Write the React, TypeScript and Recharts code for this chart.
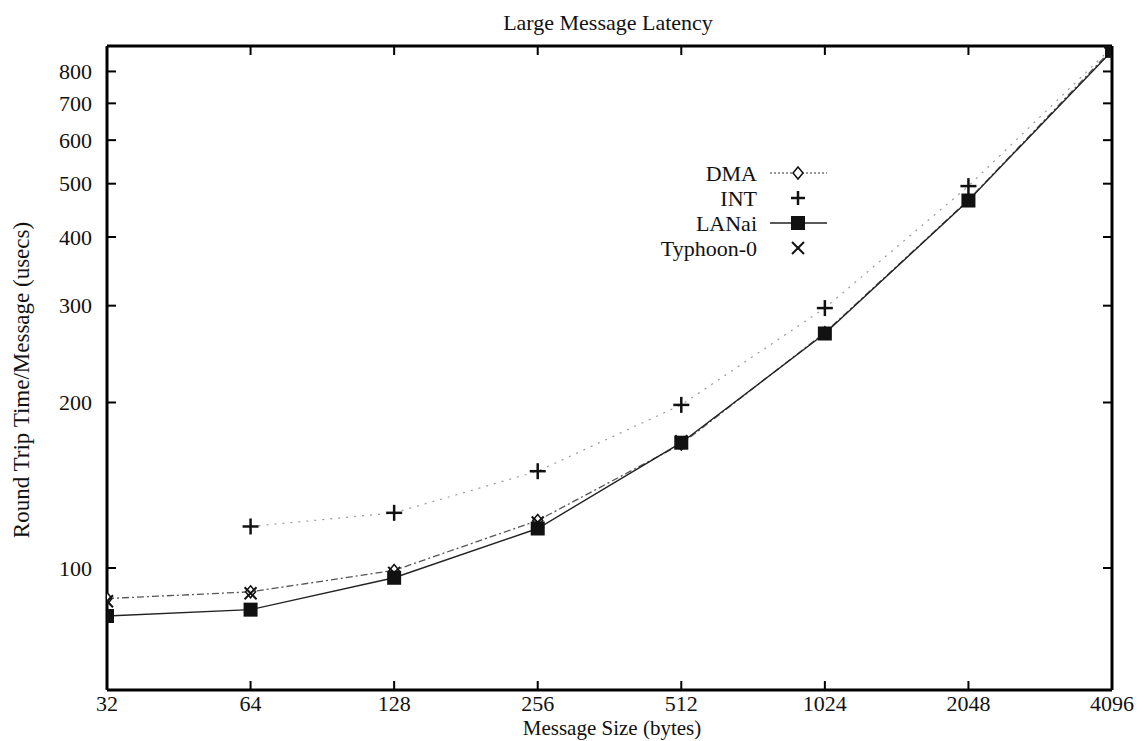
import { LineChart, Line, XAxis, YAxis, Label } from 'recharts'

const SIZES = [32, 64, 128, 256, 512, 1024, 2048, 4096]
const DMA = [88, 90.5, 99, 122, 168, 268, 467, 878]
const INT = [null, 119, 126, 150, 198, 297, 495, 885]
const LANAI = [81.8, 84, 96, 118, 169, 267, 466, 872]
const TYPHOON = [87, 90, 98, 121, 170, null, null, null]
const Y_TICKS = [100, 200, 300, 400, 500, 600, 700, 800]

const FONT = '"Liberation Serif", "Times New Roman", serif'
const W = 1144
const H = 741
const PL = 107
const PR = 1112
const PT = 46
const PB = 690

const data = SIZES.map((s, i) => ({
  size: s,
  dma: DMA[i],
  int: INT[i],
  lanai: LANAI[i],
  typhoon: TYPHOON[i],
}))

const Diamond = ({ cx, cy }: any) => (
  <polygon
    points={`${cx},${cy - 6} ${cx + 5},${cy} ${cx},${cy + 6} ${cx - 5},${cy}`}
    fill="#fff" stroke="#111" strokeWidth={1.5}
  />
)
const Plus = ({ cx, cy, r = 8 }: any) => (
  <g stroke="#111" strokeWidth={2.5}>
    <line x1={cx - r} x2={cx + r} y1={cy} y2={cy} />
    <line x1={cx} x2={cx} y1={cy - r} y2={cy + r} />
  </g>
)
const Square = ({ cx, cy }: any) => (
  <rect x={cx - 7} y={cy - 7} width={14} height={14} fill="#111" />
)
const Cross = ({ cx, cy }: any) => (
  <g stroke="#111" strokeWidth={2}>
    <line x1={cx - 6} x2={cx + 6} y1={cy - 6} y2={cy + 6} />
    <line x1={cx - 6} x2={cx + 6} y1={cy + 6} y2={cy - 6} />
  </g>
)

const dotFor = (Shape: any) => (p: any) =>
  p.value == null || p.cy == null || isNaN(p.cy)
    ? <g key={p.key ?? p.index} />
    : <Shape key={p.key ?? p.index} cx={p.cx} cy={p.cy} />

const tickText = { fontFamily: FONT, fontSize: 22, fill: '#111' }

const LeftTick = ({ y, payload }: any) => (
  <g>
    <line x1={PL} x2={PL + 9} y1={y} y2={y} stroke="#000" strokeWidth={2} />
    <text x={PL - 15} y={y} dy="0.35em" textAnchor="end" style={tickText}>{payload.value}</text>
  </g>
)
const RightTick = ({ y }: any) => (
  <line x1={PR - 9} x2={PR} y1={y} y2={y} stroke="#000" strokeWidth={2} />
)
const BottomTick = ({ x, payload }: any) => (
  <g>
    <line x1={x} x2={x} y1={PB - 9} y2={PB} stroke="#000" strokeWidth={2} />
    <text x={x} y={PB + 13} dy="0.35em" textAnchor="middle" style={tickText}>{payload.value}</text>
  </g>
)
const TopTick = ({ x }: any) => (
  <line x1={x} x2={x} y1={PT} y2={PT + 9} stroke="#000" strokeWidth={2} />
)

const LEGEND = [
  { name: 'DMA', line: true, dash: '2 2', Shape: Diamond },
  { name: 'INT', line: false, dash: '', Shape: Plus },
  { name: 'LANai', line: true, dash: '', Shape: Square },
  { name: 'Typhoon-0', line: false, dash: '', Shape: Cross },
]

export default function App() {
  const axisLine = { stroke: '#000', strokeWidth: 3 }
  return (
    <div style={{ position: 'relative', width: W, height: H, background: '#fff' }}>
      <style>{'body{margin:0}'}</style>
      <LineChart width={W} height={H} data={data}
        margin={{ top: PT - 1, right: W - PR - 1, bottom: H - PB - 1, left: PL - 1 }}>
        <XAxis dataKey="size" type="number" scale="log" domain={[32, 4096]} ticks={SIZES}
          interval={0} allowDataOverflow height={1} axisLine={axisLine} tickLine={false} tick={BottomTick}>
          <Label content={() => (
            <text x={612} y={728} textAnchor="middle" dy="0.35em" style={{ ...tickText, fontSize: 21 }}>
              Message Size (bytes)
            </text>
          )} />
        </XAxis>
        <XAxis xAxisId="top" orientation="top" dataKey="size" type="number" scale="log" domain={[32, 4096]}
          ticks={SIZES} interval={0} allowDataOverflow height={1} axisLine={axisLine} tickLine={false} tick={TopTick}>
          <Label content={() => (
            <text x={608} y={22} textAnchor="middle" dy="0.35em" style={tickText}>Large Message Latency</text>
          )} />
        </XAxis>
        <YAxis type="number" scale="log" domain={[60, 890]} ticks={Y_TICKS} interval={0}
          allowDataOverflow width={1} axisLine={axisLine} tickLine={false} tick={LeftTick}>
          <Label content={() => (
            <text x={21} y={380} textAnchor="middle" dy="0.35em" transform="rotate(-90 21 380)"
              style={{ ...tickText, fontSize: 23 }}>
              Round Trip Time/Message (usecs)
            </text>
          )} />
        </YAxis>
        <YAxis yAxisId="right" orientation="right" type="number" scale="log" domain={[60, 890]} ticks={Y_TICKS}
          interval={0} allowDataOverflow width={1} axisLine={axisLine} tickLine={false} tick={RightTick} />
        <Line dataKey="int" stroke="#9a9a9a" strokeWidth={1.2} strokeDasharray="2 6" isAnimationActive={false}
          dot={dotFor(Plus)} activeDot={false} />
        <Line dataKey="dma" stroke="#555" strokeWidth={1.3} strokeDasharray="7 3 2 3" isAnimationActive={false}
          dot={dotFor(Diamond)} activeDot={false} />
        <Line dataKey="lanai" stroke="#222" strokeWidth={1.4} isAnimationActive={false}
          dot={dotFor(Square)} activeDot={false} />
        <Line dataKey="typhoon" stroke="none" isAnimationActive={false}
          dot={dotFor(Cross)} activeDot={false} />
      </LineChart>
      <svg width={W} height={H} style={{ position: 'absolute', left: 0, top: 0, pointerEvents: 'none' }}>
        {LEGEND.map((l, i) => {
          const y = 173 + i * 25
          const S = l.Shape
          return (
            <g key={l.name}>
              <text x={757} y={y} dy="0.35em" textAnchor="end" style={tickText}>{l.name}</text>
              {l.line && (
                <line x1={770} x2={827} y1={y} y2={y}
                  stroke={l.dash ? '#777' : '#222'} strokeWidth={1.3} strokeDasharray={l.dash || undefined} />
              )}
              <S cx={798} cy={y} r={7} />
            </g>
          )
        })}
      </svg>
    </div>
  )
}
